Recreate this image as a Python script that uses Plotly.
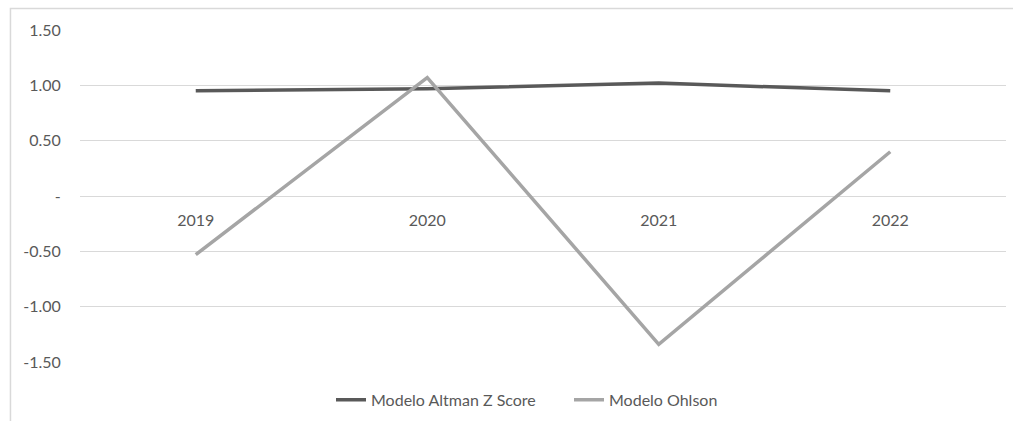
import plotly.graph_objects as go

# Years and model scores
years = ["2019", "2020", "2021", "2022"]
altman = [0.95, 0.97, 1.02, 0.95]
ohlson = [-0.53, 1.07, -1.34, 0.40]

y_ticks = [-1.5, -1.0, -0.5, 0.0, 0.5, 1.0, 1.5]
y_tick_text = ["-1.50", "-1.00", "-0.50", "-", "0.50", "1.00", "1.50"]

FONT = "Lato, 'Open Sans', sans-serif"
TXT = "#595959"
GRID = "#d9d9d9"

fig = go.Figure()
fig.add_trace(go.Scatter(
    x=years, y=altman, mode="lines", name="Modelo Altman Z Score",
    line=dict(color="#595959", width=3.5),
))
fig.add_trace(go.Scatter(
    x=years, y=ohlson, mode="lines", name="Modelo Ohlson",
    line=dict(color="#a5a5a5", width=3.5),
))

fig.update_layout(
    width=1013, height=421,
    margin=dict(l=80, r=7, t=30, b=59, autoexpand=False),
    paper_bgcolor="white", plot_bgcolor="white",
    font=dict(family=FONT, size=16, color=TXT),
    showlegend=True,
    legend=dict(
        orientation="h", x=(331 - 80) / 926, xanchor="left",
        y=-0.114, yanchor="middle",
        font=dict(family=FONT, size=16, color=TXT), itemwidth=30,
        entrywidth=193, entrywidthmode="pixels",
        traceorder="normal",
    ),
    xaxis=dict(
        type="category", range=[-0.5, 3.5], anchor="free", position=0.5,
        showgrid=False, showline=False, zeroline=False,
        ticks="outside", ticklen=10, tickcolor="rgba(0,0,0,0)",
        tickfont=dict(family=FONT, size=16, color=TXT),
    ),
    yaxis=dict(
        range=[-1.5, 1.5], tickvals=y_ticks, ticktext=y_tick_text,
        showgrid=True, gridcolor=GRID, gridwidth=1,
        zeroline=False, showline=False,
        ticks="outside", ticklen=15, tickcolor="rgba(0,0,0,0)",
        tickfont=dict(family=FONT, size=16, color=TXT),
    ),
    shapes=[dict(
        type="rect", xref="paper", yref="paper",
        x0=-0.0751, x1=1.2, y0=-0.5, y1=1.0648,
        line=dict(color=GRID, width=1.5), fillcolor="rgba(0,0,0,0)", layer="below",
    )],
)

fig.write_html("out.html")
